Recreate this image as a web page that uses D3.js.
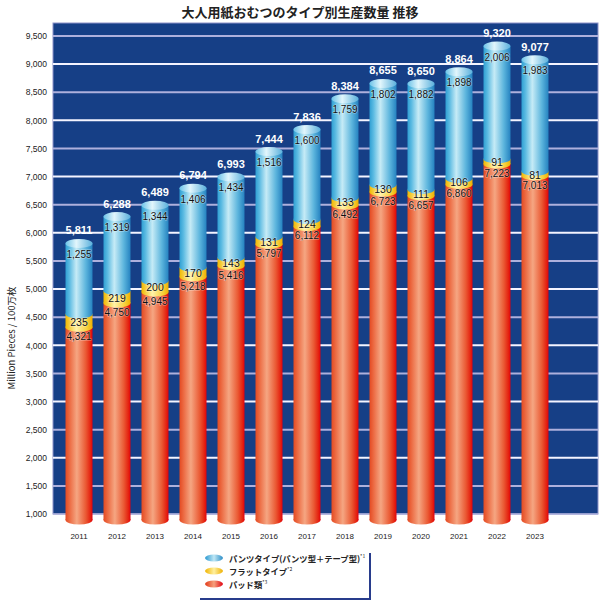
<!DOCTYPE html>
<html><head><meta charset="utf-8">
<script src="https://cdn.jsdelivr.net/npm/d3@7"></script>
<style>body{margin:0;background:#fff}svg{display:block;font-family:"Liberation Sans",Arial,sans-serif}</style>
</head><body>
<svg id="c" width="600" height="602"></svg>
<script>
const years = ["2011","2012","2013","2014","2015","2016","2017","2018","2019","2020","2021","2022","2023"];
const pads  = [4321,4750,4945,5218,5416,5797,6112,6492,6723,6657,6860,7223,7013];
const flats = [235,219,200,170,143,131,124,133,130,111,106,91,81];
const pants = [1255,1319,1344,1406,1434,1516,1600,1759,1802,1882,1898,2006,1983];
const totals= [5811,6288,6489,6794,6993,7444,7836,8384,8655,8650,8864,9320,9077];
const yTicks = [1000,1500,2000,2500,3000,3500,4000,4500,5000,5500,6000,6500,7000,7500,8000,8500,9000,9500];
const seriesNames = ["パンツタイプ(パンツ型＋テープ型)","フラットタイプ","パッド類"];
const seriesNotes = ["*1","*2","*3"];
const title = "大人用紙おむつのタイプ別生産数量 推移";
const yTitle = "Million Pieces / 100万枚";

const svg = d3.select("#c");
const L=53, R=598, T=23, B=514;
const y = d3.scaleLinear().domain([1000,9730]).range([B,T]);
const x = d3.scalePoint().domain(years).range([79,535]);
const bw = 27, ry = 4.5;
const fmt = d3.format(",");

const defs = svg.append("defs");
function grad(id, stops){
  const g = defs.append("linearGradient").attr("id",id).attr("x1","0").attr("x2","1").attr("y1","0").attr("y2","0");
  stops.forEach(s=>g.append("stop").attr("offset",s[0]).attr("stop-color",s[1]));
}
grad("gBlue",[[0,"#2f9fd3"],[0.15,"#5cbbe2"],[0.4,"#c6ebf6"],[0.75,"#5cb5dd"],[1,"#2582c0"]]);
grad("gBlueTop",[[0,"#6cc3e8"],[0.4,"#e2f6fc"],[1,"#5ab0dc"]]);
grad("gYel",[[0,"#f1b800"],[0.4,"#fff2a8"],[0.8,"#f7d03a"],[1,"#eeb000"]]);
grad("gRed",[[0,"#e44a22"],[0.15,"#ec6a42"],[0.42,"#f5a682"],[0.75,"#ea5a34"],[0.93,"#e4200f"],[1,"#e00010"]]);
grad("gLegB",[[0,"#2a98d0"],[0.5,"#bfe7f5"],[1,"#2a8cc6"]]);
grad("gLegY",[[0,"#f0b400"],[0.5,"#fff0a0"],[1,"#eeb000"]]);
grad("gLegR",[[0,"#e23818"],[0.5,"#f6a07c"],[1,"#e00010"]]);

// title
svg.append("text").attr("x",300).attr("y",17).attr("text-anchor","middle")
  .attr("font-family","'Noto Sans CJK JP',sans-serif").attr("font-weight","bold").attr("font-size",13)
  .attr("fill","#222").text(title);

// plot background
svg.append("rect").attr("x",L).attr("y",T).attr("width",R-L).attr("height",B-T)
  .attr("fill","#163f86").attr("stroke","#8c92c8").attr("stroke-width",1);

// gridlines
svg.append("g").selectAll("line").data(yTicks.filter(d=>d>1000)).join("line")
  .attr("x1",L).attr("x2",R).attr("y1",d=>y(d)).attr("y2",d=>y(d))
  .attr("stroke",d=> (d/500)%2===0 ? "#f4f4ff" : "#aeb0dc").attr("stroke-width",2);
svg.append("line").attr("x1",L).attr("x2",R).attr("y1",B).attr("y2",B).attr("stroke","#aeb0dc").attr("stroke-width",1.5);

// y axis labels
const yAxis = d3.axisLeft(y).tickValues(yTicks).tickFormat(fmt).tickSize(0).tickPadding(6);
const ya = svg.append("g").attr("transform",`translate(${L},0)`).call(yAxis);
ya.select(".domain").remove();
ya.selectAll("text").attr("font-size",8.5).attr("fill","#222").attr("font-family","'Liberation Sans',Arial,sans-serif");

svg.append("text").attr("transform","translate(11,338) rotate(-90)").attr("text-anchor","middle").attr("dominant-baseline","central")
  .attr("font-size",9.5).attr("fill","#222").attr("font-family","'Noto Sans CJK JP',sans-serif").text(yTitle);

// bars
const data = years.map((yr,i)=>({yr, pad:pads[i], flat:flats[i], pant:pants[i], total:totals[i]}));
const g = svg.append("g");
const bars = g.selectAll("g.bar").data(data).join("g").attr("class","bar");
const baseY = B+6;
// pad segment
bars.append("ellipse").attr("cx",d=>x(d.yr)).attr("cy",baseY).attr("rx",bw/2).attr("ry",ry).attr("fill","url(#gRed)");
bars.append("rect").attr("x",d=>x(d.yr)-bw/2).attr("width",bw)
  .attr("y",d=>y(d.pad)).attr("height",d=>baseY-y(d.pad)).attr("fill","url(#gRed)");
// flat segment
bars.append("ellipse").attr("cx",d=>x(d.yr)).attr("cy",d=>y(d.pad)).attr("rx",bw/2).attr("ry",ry).attr("fill","url(#gYel)");
bars.append("rect").attr("x",d=>x(d.yr)-bw/2).attr("width",bw)
  .attr("y",d=>y(d.pad+d.flat)).attr("height",d=>y(d.pad)-y(d.pad+d.flat)).attr("fill","url(#gYel)");
// pants segment
bars.append("ellipse").attr("cx",d=>x(d.yr)).attr("cy",d=>y(d.pad+d.flat)).attr("rx",bw/2).attr("ry",ry).attr("fill","url(#gBlue)");
bars.append("rect").attr("x",d=>x(d.yr)-bw/2).attr("width",bw)
  .attr("y",d=>y(d.total)).attr("height",d=>y(d.pad+d.flat)-y(d.total)).attr("fill","url(#gBlue)");
bars.append("ellipse").attr("cx",d=>x(d.yr)).attr("cy",d=>y(d.total)).attr("rx",bw/2).attr("ry",ry).attr("fill","url(#gBlueTop)");

// labels
function lab(sel, fx, fy, txt, size, color, weight){
  sel.append("text").attr("x",fx).attr("y",fy).attr("text-anchor","middle").attr("dominant-baseline","central")
    .attr("font-size",size).attr("fill",color).attr("font-weight",weight||"normal")
    .attr("stroke", color==="#fff"? "none":"rgba(255,255,255,0.45)").attr("stroke-width",color==="#fff"?0:1.2)
    .attr("paint-order","stroke").text(txt);
}
lab(bars, d=>x(d.yr), d=>y(d.total)-13, d=>fmt(d.total), 11, "#fff", "bold");
lab(bars, d=>x(d.yr), d=>y(d.total)+11, d=>fmt(d.pant), 10, "#111");
lab(bars, d=>x(d.yr), d=>(y(d.pad)+y(d.pad+d.flat))/2+1, d=>fmt(d.flat), 10.5, "#111");
lab(bars, d=>x(d.yr), d=>y(d.pad)+9.5, d=>fmt(d.pad), 10, "#111");

// x labels
svg.append("g").selectAll("text").data(years).join("text")
  .attr("x",d=>x(d)).attr("y",539).attr("text-anchor","middle").attr("font-size",8).attr("fill","#222").text(d=>d);

// legend
const lg = svg.append("g");
lg.append("line").attr("x1",370).attr("x2",370).attr("y1",553).attr("y2",599).attr("stroke","#283c8c").attr("stroke-width",2);
lg.append("line").attr("x1",200).attr("x2",371).attr("y1",599).attr("y2",599).attr("stroke","#283c8c").attr("stroke-width",2);
const legFills = ["url(#gLegB)","url(#gLegY)","url(#gLegR)"];
const legY = [558,571,584];
seriesNames.forEach((n,i)=>{
  lg.append("ellipse").attr("cx",214).attr("cy",legY[i]).attr("rx",9).attr("ry",3.5).attr("fill",legFills[i]);
  const t = lg.append("text").attr("x",229).attr("y",legY[i]).attr("dominant-baseline","central")
    .attr("font-size",8.3).attr("font-weight","bold").attr("fill","#222")
    .attr("font-family","'Noto Sans CJK JP',sans-serif").text(n);
  t.append("tspan").attr("font-size",5).attr("dy",-3).attr("font-weight","normal").text(seriesNotes[i]);
});
</script>
</body></html>
